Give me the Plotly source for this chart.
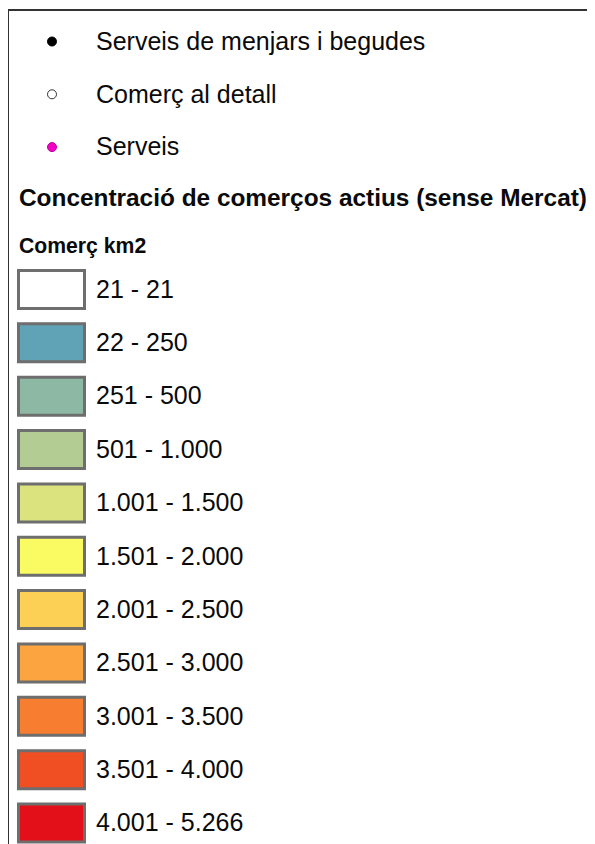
import plotly.graph_objects as go

# Point-symbol legend entries
point_labels = ["Serveis de menjars i begudes", "Comerç al detall", "Serveis"]
point_fill = ["#000000", "#FFFFFF", "#F200C4"]
point_line = ["#000000", "#333333", "#C0009A"]

# Choropleth classes
title_text = "Concentració de comerços actius (sense Mercat)"
subtitle_text = "Comerç km2"
class_labels = ["21 - 21", "22 - 250", "251 - 500", "501 - 1.000", "1.001 - 1.500",
                "1.501 - 2.000", "2.001 - 2.500", "2.501 - 3.000", "3.001 - 3.500",
                "3.501 - 4.000", "4.001 - 5.266"]
class_colors = ["#FFFFFF", "#61A3B6", "#8DB8A3", "#B2CC94", "#DAE37E", "#FAFA62",
                "#FCD054", "#FCA43F", "#F77D31", "#F04F24", "#E31019"]

W, H = 595, 844
OFF = 8  # page body margin of the browser
FONT = "Liberation Sans, Arial, sans-serif"

# layout of rows
pt_y = [41.5 + i * 52.8 for i in range(len(point_labels))]
cls_y = [289.5 + i * 53.35 for i in range(len(class_labels))]
box_x0, box_w, box_h = 18.5, 66, 38
text_x = 96
dy = 2  # text baseline correction

fig = go.Figure()

# Points
fig.add_trace(go.Scatter(
    x=[52] * len(point_labels), y=pt_y, mode="markers",
    marker=dict(size=9, color=point_fill, line=dict(color=point_line, width=1)),
    hoverinfo="skip", showlegend=False))
fig.add_trace(go.Scatter(
    x=[text_x] * len(point_labels), y=[v + dy for v in pt_y], mode="text", text=point_labels,
    textposition="middle right", textfont=dict(family=FONT, size=25, color="#0A0A0A"),
    hoverinfo="skip", showlegend=False))

# Class boxes as horizontal bars
fig.add_trace(go.Bar(
    orientation="h", y=cls_y, x=[box_w] * len(class_labels), base=box_x0,
    width=box_h, marker=dict(color=class_colors, line=dict(color="#6E6E6E", width=3)),
    hoverinfo="skip", showlegend=False))
fig.add_trace(go.Scatter(
    x=[text_x] * len(class_labels), y=[v + dy for v in cls_y], mode="text", text=class_labels,
    textposition="middle right", textfont=dict(family=FONT, size=25, color="#0A0A0A"),
    hoverinfo="skip", showlegend=False))

# Headings
fig.add_trace(go.Scatter(
    x=[19, 19], y=[200, 248], mode="text",
    text=["<b>" + title_text + "</b>", "<b>" + subtitle_text + "</b>"],
    textposition="middle right",
    textfont=dict(family=FONT, size=[24.4, 21.2], color="#0A0A0A"),
    hoverinfo="skip", showlegend=False))

# Frame lines
fig.add_shape(type="line", x0=8, x1=W + OFF, y0=10, y1=10, xref="x", yref="y",
              line=dict(color="#333333", width=2))
fig.add_shape(type="line", x0=8, x1=8, y0=10, y1=H + OFF, xref="x", yref="y",
              line=dict(color="#333333", width=2))

fig.update_layout(
    width=W, height=H, margin=dict(l=0, r=0, t=0, b=0),
    paper_bgcolor="white", plot_bgcolor="white", barmode="overlay",
    xaxis=dict(range=[OFF, W + OFF], visible=False, fixedrange=True),
    yaxis=dict(range=[H + OFF, OFF], visible=False, fixedrange=True),
)

fig.write_html("out.html")
